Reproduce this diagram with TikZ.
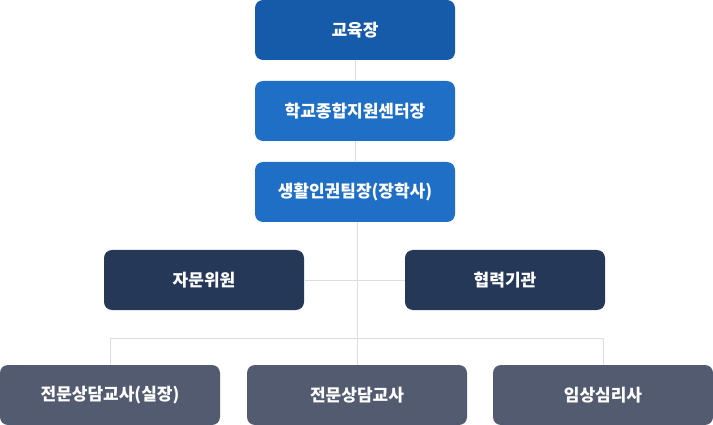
\documentclass[tikz,border=0pt]{standalone}
\usepackage{fontspec}
\setmainfont{Noto Sans CJK KR}
\usepackage{tikz}
\usetikzlibrary{positioning}

\definecolor{topblue}{HTML}{165BAA}
\definecolor{midblue}{HTML}{1F6FC6}
\definecolor{navy}{HTML}{263858}
\definecolor{slate}{HTML}{525B6F}
\definecolor{linegray}{HTML}{DDDDDD}

\begin{document}
\begin{tikzpicture}[x=1pt, y=1pt, node distance=20pt, line width=1pt,
  box/.style={rectangle, rounded corners=8pt, text=white, minimum width=200pt, minimum height=60pt, inner sep=0pt, font=\fontsize{17}{20}\selectfont\bfseries},
  staff/.style={box, minimum width=220pt},
  link/.style={draw=linegray}]

  \useasboundingbox (0,0) rectangle (713,-425);

  % Define nodes
  \node[box, fill=topblue] (chief) at (355,-30) {교육장};
  \node[box, fill=midblue] (center) [below=of chief] {학교종합지원센터장};
  \node[box, fill=midblue] (team) [below=of center] {생활인권팀장(장학사)};
  \node[box, fill=navy] (advise) at (204,-280) {자문위원};
  \node[box, fill=navy] (partner) at (505,-280) {협력기관};
  \node[staff, fill=slate] (head) at (110,-395) {전문상담교사(실장)};
  \node[staff, fill=slate] (counsel) at (357,-395) {전문상담교사};
  \node[staff, fill=slate] (clinic) at (603,-395) {임상심리사};

  % Define connectors
  \path[link]
    (chief.south) edge (chief.south |- center.north)
    (center.south) edge (center.south |- team.north)
    (team.south -| counsel.north) edge (counsel.north)
    (advise.east) edge (partner.west);
  \draw[link] (head.north) -- ++(0,26) -| (clinic.north);
\end{tikzpicture}
\end{document}
